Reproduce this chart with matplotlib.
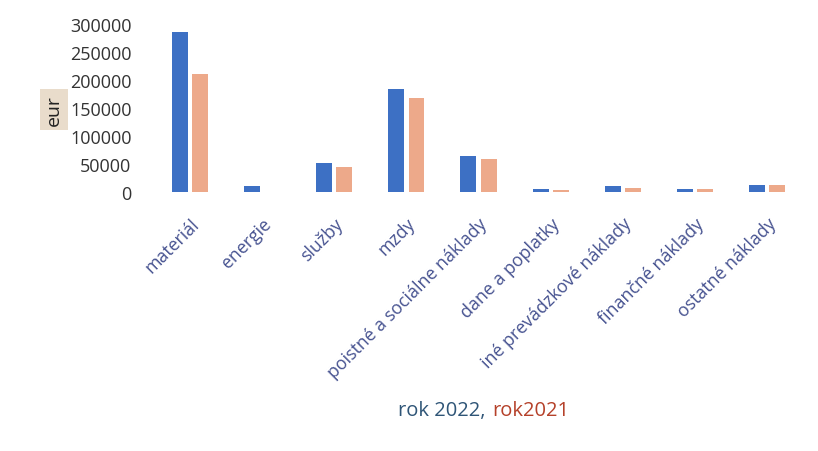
import numpy as np
import matplotlib
matplotlib.use("Agg")
import matplotlib.pyplot as plt

#Data (eur)
categories = ["materiál", "energie", "služby", "mzdy", "poistné a sociálne náklady",
              "dane a poplatky", "iné prevádzkové náklady", "finančné náklady", "ostatné náklady"]
rok2022 = [286000, 10000, 52000, 183000, 64000, 5000, 11000, 5000, 12000]
rok2021 = [210000, 0, 45000, 167000, 58000, 3000, 7000, 5000, 12000]
yticks = [0, 50000, 100000, 150000, 200000, 250000, 300000]

plt.rcParams['font.family'] = ['Open Sans', 'DejaVu Sans']

fig = plt.figure(figsize=(8.18, 4.52), dpi=100)
ax = fig.add_axes([0.188, 0.573, 0.794, 0.372])

x = np.arange(len(categories))
ax.bar(x - 0.14, rok2022, width=0.22, color="#3d70c4")
ax.bar(x + 0.14, rok2021, width=0.22, color="#eda98a")

ax.set_xlim(-0.5, len(categories) - 0.5)
ax.set_ylim(0, 300000)
ax.set_yticks(yticks)
ax.set_yticklabels([str(v) for v in yticks], fontsize=13, color="#333333")
ax.set_xticks(x)
ax.set_xticklabels(categories, rotation=45, ha="right", rotation_mode="anchor",
                   fontsize=12.8, color="#465290")
ax.tick_params(length=0, axis="y", pad=16)
ax.tick_params(length=0, axis="x", pad=16)
for s in ax.spines.values():
    s.set_visible(False)

#axis title with the beige box
fig.text(0.066, 0.755, "eur", rotation=90, ha="center", va="center", fontsize=14,
         color="#222222", bbox=dict(boxstyle="square,pad=0.25", fc="#e9dccb", ec="none"))

#legend written as coloured text
fig.text(0.594, 0.090, "rok 2022,", ha="right", va="center", fontsize=14.5, color="#2f5577")
fig.text(0.602, 0.090, "rok2021", ha="left", va="center", fontsize=14.5, color="#b5412a")

fig.savefig("out.png", dpi=100)
